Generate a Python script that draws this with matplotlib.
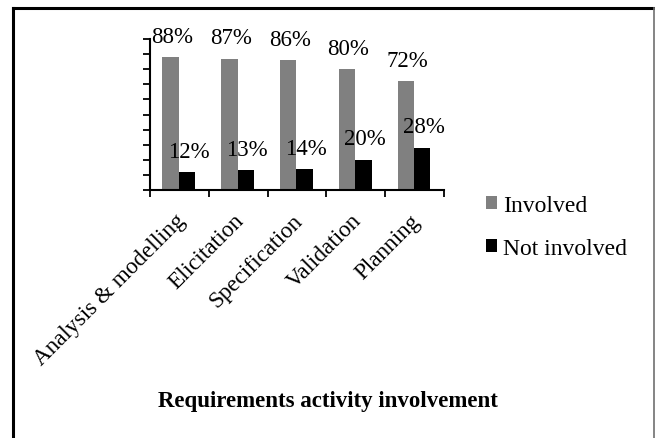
import matplotlib
matplotlib.use("Agg")
import matplotlib.pyplot as plt
import matplotlib.transforms as mtransforms
import numpy as np
from matplotlib.lines import Line2D

plt.rcParams["font.family"] = ["Liberation Serif", "DejaVu Serif"]

categories = ["Analysis & modelling", "Elicitation", "Specification", "Validation", "Planning"]
involved = [88, 87, 86, 80, 72]
not_involved = [12, 13, 14, 20, 28]
series_names = ["Involved", "Not involved"]
colors = ["#808080", "#000000"]

W, H = 655, 439
fig = plt.figure(figsize=(W / 100, H / 100), dpi=100)

# chart area
ax = fig.add_axes([150 / W, 1 - 191 / H, 294 / W, 151 / H])
x = np.arange(len(categories))
bw = 0.28
b1 = ax.bar(x - bw / 2 - 0.01, involved, bw, color=colors[0], label=series_names[0])
b2 = ax.bar(x + bw / 2 - 0.01, not_involved, bw, color=colors[1], label=series_names[1])

for bars, vals in ((b1, involved), (b2, not_involved)):
    for rect, v in zip(bars, vals):
        ax.annotate(f"{v}%", (rect.get_x() + rect.get_width() / 2, v),
                    xytext=(1, 15), textcoords="offset points",
                    ha="center", va="center", fontsize=16.5)

ax.set_xlim(-0.5, len(categories) - 0.5)
ax.set_ylim(0, 100)
ax.set_yticks(np.arange(0, 101, 10))
ax.set_yticklabels([])
ax.set_xticks(np.arange(-0.5, len(categories), 1.0))
ax.set_xticklabels([])
ax.set_xticks(x, minor=True)
ax.set_xticklabels(categories, minor=True, rotation=45, ha="right",
                   rotation_mode="anchor", fontsize=16.7)
ax.tick_params(axis="x", which="minor", length=0, pad=12)
ax.tick_params(axis="both", which="major", direction="out", length=5, width=1.3, color="black")
shift = mtransforms.ScaledTranslation(-5 / 100, -3 / 100, fig.dpi_scale_trans)
for lbl in ax.get_xticklabels(minor=True):
    lbl.set_transform(lbl.get_transform() + shift)
for s in ("top", "right"):
    ax.spines[s].set_visible(False)
for s in ("left", "bottom"):
    ax.spines[s].set_linewidth(1.5)
    ax.spines[s].set_color("black")

fig.legend(handles=[b1, b2], labels=series_names, loc="center left",
           bbox_to_anchor=(474 / W, 1 - 228 / H), frameon=False, fontsize=17,
           handlelength=0.48, handleheight=0.48, handletextpad=0.25, labelspacing=0.95,
           borderpad=0.0)

fig.text(328 / W, 1 - 402 / H, "Requirements activity involvement",
         ha="center", va="center", fontsize=16.5, fontweight="bold")

# outer frame
fig.add_artist(Line2D([13 / W, 654 / W], [1 - 9 / H, 1 - 9 / H], color="black", lw=2.2,
                      transform=fig.transFigure))
fig.add_artist(Line2D([13 / W, 13 / W], [1 - 9 / H, 0], color="black", lw=2.2,
                      transform=fig.transFigure))
fig.add_artist(Line2D([654 / W, 654 / W], [1 - 9 / H, 0], color="#707070", lw=1.2,
                      transform=fig.transFigure))

fig.savefig("out.png", dpi=100)
